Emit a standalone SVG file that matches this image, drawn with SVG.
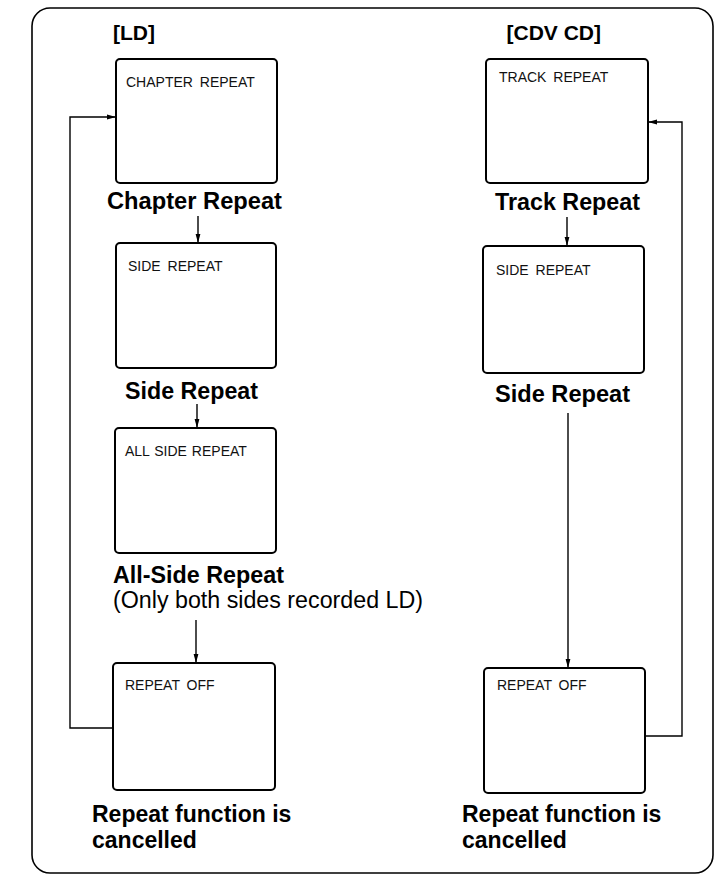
<svg xmlns="http://www.w3.org/2000/svg" width="719" height="875" viewBox="0 0 719 875">
<style>
.frame{fill:none;stroke:#000;stroke-width:1.6}
.scr{fill:#fff;stroke:#000;stroke-width:2}
.st{font-family:"Liberation Sans",Arial,sans-serif;font-size:14px;word-spacing:3px;fill:#111}
.lb{font-family:"Liberation Sans",Arial,sans-serif;font-size:23px;font-weight:bold;fill:#000}
.rg{font-family:"Liberation Sans",Arial,sans-serif;font-size:23px;fill:#000}
.hd{font-family:"Liberation Sans",Arial,sans-serif;font-size:21px;font-weight:bold;fill:#000}
.ln{fill:none;stroke:#000;stroke-width:1.4}
</style>
<defs>
<marker id="ah" markerWidth="10" markerHeight="6" refX="9" refY="3" orient="auto" markerUnits="userSpaceOnUse">
<path d="M0,0.6 L9,3 L0,5.4 Z" fill="#000"/>
</marker>
</defs>
<rect class="frame" x="32" y="8" width="681" height="865" rx="18"/>
<text class="hd" x="113" y="40">[LD]</text>
<text class="hd" x="601" y="40" text-anchor="end">[CDV CD]</text>
<g id="connectors">
<line class="ln" x1="198" y1="216" x2="198" y2="243" marker-end="url(#ah)"/>
<line class="ln" x1="197" y1="404" x2="197" y2="428" marker-end="url(#ah)"/>
<line class="ln" x1="196" y1="620" x2="196" y2="663" marker-end="url(#ah)"/>
<polyline class="ln" points="113,728 70,728 70,117 116,117" marker-end="url(#ah)"/>
<line class="ln" x1="567" y1="217" x2="567" y2="246" marker-end="url(#ah)"/>
<line class="ln" x1="568" y1="413" x2="568" y2="668" marker-end="url(#ah)"/>
<polyline class="ln" points="645,736 682,736 682,122 648,122" marker-end="url(#ah)"/>
</g>
<g id="ld-chapter">
<rect class="scr" x="116" y="59" width="161" height="124" rx="4"/>
<text class="st" x="126" y="87">CHAPTER REPEAT</text>
<text class="lb" x="107" y="209" textLength="175" lengthAdjust="spacingAndGlyphs">Chapter Repeat</text>
</g>
<g id="ld-side">
<rect class="scr" x="116" y="243" width="160" height="125" rx="4"/>
<text class="st" x="128" y="271">SIDE REPEAT</text>
<text class="lb" x="125" y="399" textLength="133" lengthAdjust="spacingAndGlyphs">Side Repeat</text>
</g>
<g id="ld-allside">
<rect class="scr" x="115" y="428" width="161" height="125" rx="4"/>
<text class="st" x="125" y="456" style="word-spacing:1px">ALL SIDE REPEAT</text>
<text class="lb" x="113" y="583" textLength="171" lengthAdjust="spacingAndGlyphs">All-Side Repeat</text>
<text class="rg" x="113" y="608" textLength="310" lengthAdjust="spacingAndGlyphs">(Only both sides recorded LD)</text>
</g>
<g id="ld-off">
<rect class="scr" x="113" y="663" width="162" height="127" rx="4"/>
<text class="st" x="125" y="690">REPEAT OFF</text>
<text class="lb" x="92" y="822">Repeat function is</text>
<text class="lb" x="92" y="848">cancelled</text>
</g>
<g id="cd-track">
<rect class="scr" x="486" y="59" width="162" height="124" rx="4"/>
<text class="st" x="499" y="82">TRACK REPEAT</text>
<text class="lb" x="495" y="210" textLength="145" lengthAdjust="spacingAndGlyphs">Track Repeat</text>
</g>
<g id="cd-side">
<rect class="scr" x="483" y="246" width="161" height="127" rx="4"/>
<text class="st" x="496" y="275">SIDE REPEAT</text>
<text class="lb" x="495" y="402" textLength="135" lengthAdjust="spacingAndGlyphs">Side Repeat</text>
</g>
<g id="cd-off">
<rect class="scr" x="484" y="668" width="161" height="125" rx="4"/>
<text class="st" x="497" y="690">REPEAT OFF</text>
<text class="lb" x="462" y="822">Repeat function is</text>
<text class="lb" x="462" y="848">cancelled</text>
</g>
</svg>
